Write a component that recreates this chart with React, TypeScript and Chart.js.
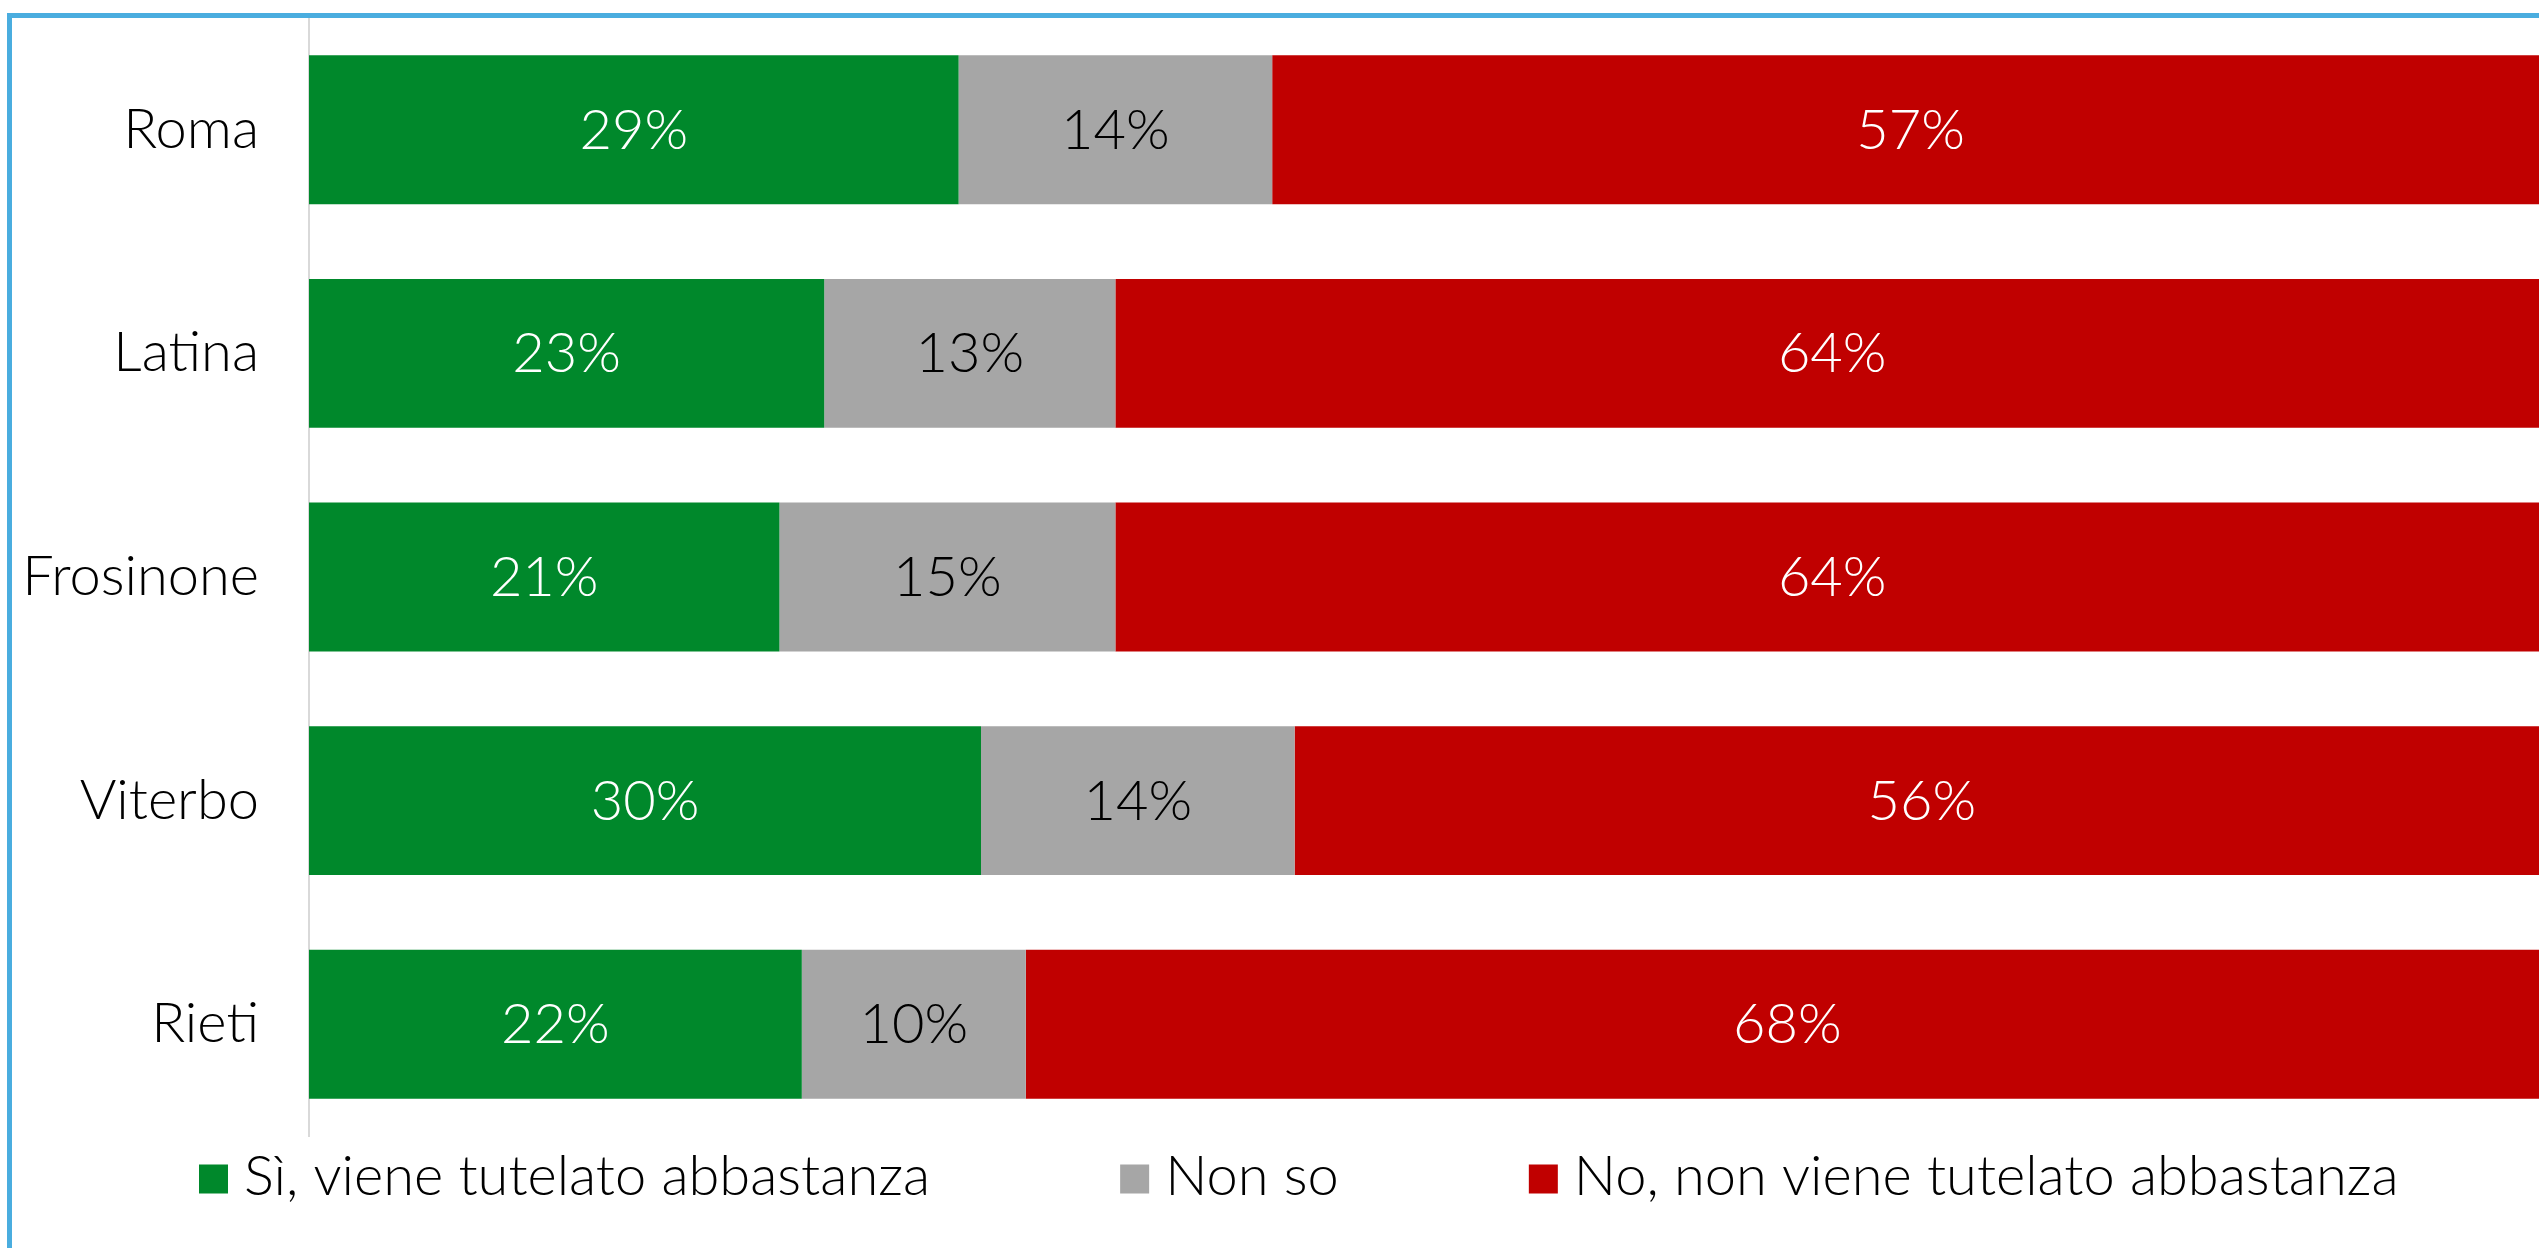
import React, { useEffect, useRef } from "react";
import { Chart, registerables } from "chart.js";

Chart.register(...registerables);

const categories = ["Roma", "Latina", "Frosinone", "Viterbo", "Rieti"];
const seriesLabels = [
  "Sì, viene tutelato abbastanza",
  "Non so",
  "No, non viene tutelato abbastanza",
];
const siValues = [29, 23, 21, 30, 22];
const nonSoValues = [14, 13, 15, 14, 10];
const noValues = [57, 64, 64, 56, 68];

const COLORS = ["#00882B", "#A6A6A6", "#C00000"];
const LABEL_COLORS = ["#FFFFFF", "#000000", "#FFFFFF"];
const FONT_FAMILY = "Lato, 'Open Sans', sans-serif";
const FONT_SIZE = 56;

const dataLabelPlugin = {
  id: "dataLabels",
  afterDatasetsDraw(chart: any) {
    const ctx = chart.ctx;
    ctx.save();
    ctx.font = `300 ${FONT_SIZE}px ${FONT_FAMILY}`;
    ctx.textAlign = "center";
    ctx.textBaseline = "middle";
    chart.data.datasets.forEach((ds: any, di: number) => {
      const meta = chart.getDatasetMeta(di);
      meta.data.forEach((el: any, i: number) => {
        const v = ds.data[i];
        const cx = (el.x + el.base) / 2;
        ctx.fillStyle = LABEL_COLORS[di];
        ctx.fillText(`${v}%`, cx, el.y + 1);
      });
    });
    ctx.restore();
  },
};

const legendPlugin = {
  id: "customLegend",
  afterDraw(chart: any) {
    const ctx = chart.ctx;
    const area = chart.chartArea;
    const box = 29;
    const boxGap = 16;
    const itemGap = 190;
    const cy = area.bottom + 43;
    let x = 187;
    ctx.save();
    ctx.font = `300 ${FONT_SIZE}px ${FONT_FAMILY}`;
    ctx.textAlign = "left";
    ctx.textBaseline = "middle";
    chart.data.datasets.forEach((ds: any) => {
      ctx.fillStyle = ds.backgroundColor;
      ctx.fillRect(x, cy - box / 2, box, box);
      x += box + boxGap;
      ctx.fillStyle = "#000000";
      ctx.fillText(ds.label, x, cy - 2);
      x += ctx.measureText(ds.label).width + itemGap;
    });
    ctx.restore();
  },
};

export default function App() {
  const ref = useRef<HTMLCanvasElement | null>(null);

  useEffect(() => {
    if (!ref.current) return;
    const values = [siValues, nonSoValues, noValues];
    const chart = new Chart(ref.current, {
      type: "bar",
      data: {
        labels: categories,
        datasets: seriesLabels.map((label, i) => ({
          label,
          data: values[i],
          backgroundColor: COLORS[i],
          borderWidth: 0,
          barPercentage: 0.666,
          categoryPercentage: 1,
        })),
      },
      options: {
        indexAxis: "y",
        responsive: false,
        animation: false,
        devicePixelRatio: 1,
        layout: { padding: { top: 0, right: 0, bottom: 112, left: 0 } },
        plugins: {
          legend: { display: false },
          tooltip: { enabled: false },
          title: { display: false },
        },
        scales: {
          x: {
            stacked: true,
            min: 0,
            max: 100,
            display: false,
          },
          y: {
            stacked: true,
            grid: { display: false, drawTicks: false },
            border: { display: true, color: "#D9D9D9", width: 2 },
            ticks: {
              padding: 50,
              color: "#000000",
              font: { family: FONT_FAMILY, size: FONT_SIZE, weight: "300" as any },
            },
            afterFit(scale: any) {
              scale.width = 297;
              scale.paddingTop = 0;
              scale.paddingBottom = 0;
            },
          },
        },
      },
      plugins: [dataLabelPlugin, legendPlugin],
    });
    return () => chart.destroy();
  }, []);

  return (
    <div
      style={{
        position: "fixed",
        left: 0,
        top: 0,
        width: "100vw",
        height: "100vh",
        overflow: "hidden",
        background: "#FFFFFF",
      }}
    >
      <div
        style={{
          position: "absolute",
          left: 7,
          top: 13,
          width: 4000,
          height: 3000,
          borderTop: "5px solid #4AADDF",
          borderLeft: "5px solid #4AADDF",
        }}
      />
      <canvas
        ref={ref}
        width={2537}
        height={1230}
        style={{ position: "absolute", left: 12, top: 18, width: 2537, height: 1230 }}
      />
    </div>
  );
}
